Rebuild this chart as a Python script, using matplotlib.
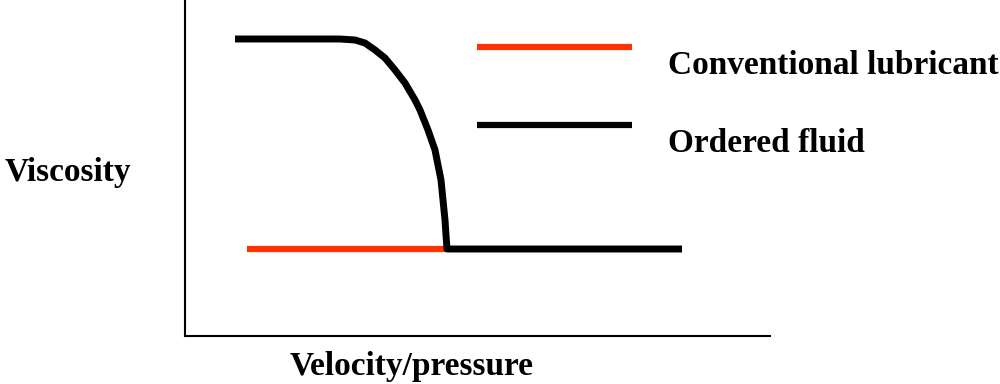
import matplotlib
matplotlib.use('Agg')
import matplotlib.pyplot as plt

# velocity/pressure (arbitrary units) vs viscosity (arbitrary units)
ordered_x = [50, 155, 170, 180, 190, 200, 210, 220, 230, 235, 243, 250,
             254, 256, 258, 260, 261, 262, 497]
ordered_y = [297, 297, 296, 293, 286, 278, 266, 253, 236, 226, 206, 186,
             166, 156, 136, 116, 101, 87, 87]
conv_x = [62, 260]
conv_y = [87, 87]

labels = ['Conventional lubricant', 'Ordered fluid']
colors = ['#ff3300', 'black']

plt.rcParams['font.family'] = ['Liberation Serif', 'DejaVu Serif']

fig = plt.figure(figsize=(10, 3.84), dpi=100)
ax = fig.add_axes([0.185, 0.125, 0.585, 0.875])
ax.set_xlim(0, 585)
ax.set_ylim(0, 336)

ax.plot(conv_x, conv_y, color=colors[0], lw=4.5, solid_capstyle='butt')
ax.plot(ordered_x, ordered_y, color=colors[1], lw=5, solid_capstyle='butt',
        solid_joinstyle='round')

# hand-placed legend
for i, (lab, col) in enumerate(zip(labels, colors)):
    yl = 289 - 78 * i
    ax.plot([292, 447], [yl, yl], color=col, lw=4.5, clip_on=False,
            solid_capstyle='butt')
    ax.text(483, yl - 18, lab, fontsize=24, fontweight='bold',
            va='center', ha='left', clip_on=False)

for s in ['top', 'right']:
    ax.spines[s].set_visible(False)
for s in ['left', 'bottom']:
    ax.spines[s].set_linewidth(1.5)
ax.set_xticks([])
ax.set_yticks([])

fig.text(0.005, 1 - 173 / 384, 'Viscosity', fontsize=24, fontweight='bold',
         va='center', ha='left')
fig.text(0.412, 1 - 366 / 384, 'Velocity/pressure', fontsize=24,
         fontweight='bold', va='center', ha='center')

fig.savefig('out.png', dpi=100)
